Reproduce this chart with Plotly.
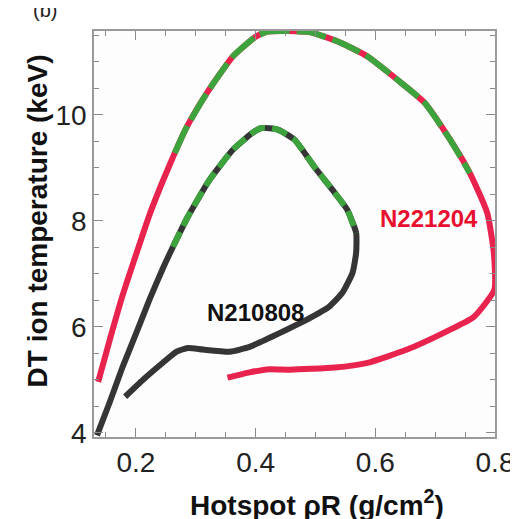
import plotly.graph_objects as go

# N221204 trajectory (red)
red_x = [0.137, 0.157, 0.178, 0.202, 0.223, 0.245, 0.265, 0.285, 0.318, 0.362, 0.400, 0.420,
         0.490, 0.542, 0.587, 0.637, 0.682, 0.725, 0.758, 0.787, 0.798, 0.799, 0.765, 0.715,
         0.653, 0.587, 0.532, 0.458, 0.423, 0.390, 0.353]
red_y = [4.96, 5.78, 6.60, 7.42, 8.12, 8.75, 9.28, 9.77, 10.40, 11.10, 11.47, 11.57,
         11.56, 11.36, 11.10, 10.66, 10.23, 9.53, 8.90, 8.15, 7.40, 6.70, 6.19, 5.89,
         5.57, 5.32, 5.23, 5.19, 5.20, 5.14, 5.04]
red_green_range = (6, 19)  # indices of the burning (green) part

# N210808 trajectory (black)
blk_x = [0.135, 0.157, 0.178, 0.202, 0.223, 0.245, 0.262, 0.287, 0.323, 0.362, 0.395, 0.410,
         0.437, 0.465, 0.498, 0.532, 0.553, 0.568, 0.568, 0.562, 0.545, 0.523, 0.485, 0.440,
         0.410, 0.390, 0.357, 0.312, 0.287, 0.268, 0.245, 0.212, 0.182]
blk_y = [3.95, 4.60, 5.25, 5.92, 6.52, 7.10, 7.51, 8.08, 8.77, 9.34, 9.66, 9.75,
         9.72, 9.53, 9.02, 8.53, 8.21, 7.77, 7.40, 7.02, 6.64, 6.38, 6.13, 5.88,
         5.72, 5.62, 5.53, 5.57, 5.60, 5.53, 5.32, 5.00, 4.68]
blk_green_range = (6, 18)

x_ticks = [0.2, 0.4, 0.6, 0.8]
y_ticks = [4, 6, 8, 10]

RED = "#E8234E"
GREEN = "#3DA33D"
BLACK = "#353535"
FONT = "Liberation Sans, Arial, sans-serif"

fig = go.Figure()
fig.add_trace(go.Scatter(x=red_x, y=red_y, mode="lines",
                         line=dict(color=RED, width=6, shape="spline", smoothing=0.5),
                         showlegend=False, hoverinfo="skip"))
a, b = red_green_range
fig.add_trace(go.Scatter(x=red_x[a:b], y=red_y[a:b], mode="lines",
                         line=dict(color=GREEN, width=6, shape="spline", smoothing=0.5,
                                   dash="30px,7px"),
                         showlegend=False, hoverinfo="skip"))
fig.add_trace(go.Scatter(x=blk_x, y=blk_y, mode="lines",
                         line=dict(color=BLACK, width=6, shape="spline", smoothing=0.5),
                         showlegend=False, hoverinfo="skip"))
a, b = blk_green_range
fig.add_trace(go.Scatter(x=blk_x[a:b], y=blk_y[a:b], mode="lines",
                         line=dict(color=GREEN, width=6, shape="spline", smoothing=0.5,
                                   dash="16px,7px"),
                         showlegend=False, hoverinfo="skip"))

fig.add_annotation(x=0.69, y=8.05, text="<b>N221204</b>", showarrow=False,
                   font=dict(color="#E8102E", size=24, family=FONT))
fig.add_annotation(x=0.4, y=6.27, text="<b>N210808</b>", showarrow=False,
                   font=dict(color="#111111", size=24, family=FONT))
fig.add_annotation(xref="paper", yref="paper", x=-0.157, y=1.052, text="(b)", showarrow=False,
                   yanchor="middle", font=dict(color="#222", size=20, family=FONT))
# axis titles
fig.add_annotation(xref="paper", yref="paper", x=0.556, y=-0.163,
                   text="<b>Hotspot ρR (g/cm<sup>2</sup>)</b>", showarrow=False,
                   xanchor="center", yanchor="middle",
                   font=dict(size=28, color="#111", family=FONT))
fig.add_annotation(xref="paper", yref="paper", x=-0.142, y=0.531,
                   text="<b>DT ion temperature (keV)</b>", showarrow=False, textangle=-90,
                   xanchor="center", yanchor="middle",
                   font=dict(size=28, color="#111", family=FONT))

axis_common = dict(showline=True, linecolor="#9a9a9a", linewidth=1.5, mirror="allticks",
                   ticks="inside", ticklen=9, tickcolor="#8a8a8a", tickwidth=1.2,
                   showgrid=False, zeroline=False, automargin=False,
                   tickfont=dict(size=28, color="#222", family=FONT))

fig.update_xaxes(range=[0.13, 0.8], tickvals=x_ticks, ticktext=[str(v) for v in x_ticks],
                 minor=dict(ticks="inside", dtick=0.05, tick0=0.0, ticklen=5,
                            tickcolor="#8a8a8a", showgrid=False),
                 **axis_common)
fig.update_yaxes(range=[3.92, 11.58], tickvals=y_ticks, ticktext=[str(v) for v in y_ticks],
                 minor=dict(ticks="inside", dtick=0.5, tick0=0.0, ticklen=5,
                            tickcolor="#8a8a8a", showgrid=False),
                 **axis_common)

# the page body adds an 8px offset; margins compensate so the plot area lands where it should
fig.update_layout(width=518, height=519, margin=dict(l=86, r=31, t=23, b=90),
                  plot_bgcolor="#fdfdfd", paper_bgcolor="white")

fig.write_html("out.html")
